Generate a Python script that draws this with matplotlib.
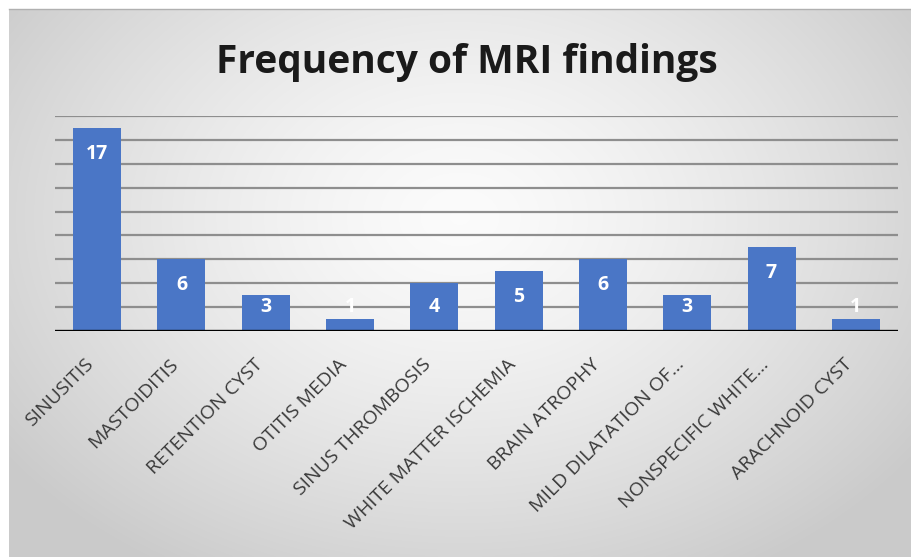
import numpy as np
import matplotlib
matplotlib.use("Agg")
import matplotlib.pyplot as plt
import matplotlib.transforms as mtrans

categories = ["SINUSITIS", "MASTOIDITIS", "RETENTION CYST", "OTITIS MEDIA",
              "SINUS THROMBOSIS", "WHITE MATTER ISCHEMIA", "BRAIN ATROPHY",
              "MILD DILATATION OF...", "NONSPECIFIC WHITE...", "ARACHNOID CYST"]
values = [17, 6, 3, 1, 4, 5, 6, 3, 7, 1]
title = "Frequency of MRI findings"

W, H = 911, 557
fig = plt.figure(figsize=(W / 100, H / 100), dpi=100)
fig.patch.set_facecolor("white")

# background with radial gradient
bg = fig.add_axes([9 / W, 0, 1 - 9 / W, 1 - 9 / H])
bg.set_axis_off()
yy, xx = np.mgrid[0:1:300j, 0:1:500j]
r = np.sqrt(((xx - 0.5) / 0.62) ** 2 + ((yy - 0.38) / 0.75) ** 2)
r = np.clip(r, 0, 1)
val = 0.985 - 0.19 * r ** 1.4
img = np.dstack([val, val, val])
bg.imshow(img, aspect="auto", extent=[0, 1, 1, 0], interpolation="bilinear")
bg.set_xlim(0, 1)
bg.set_ylim(1, 0)
fig.add_artist(plt.Line2D([9 / W, 1], [1 - 9 / H, 1 - 9 / H], color="#b0b0b0", lw=1))

ax = fig.add_axes([55 / W, 1 - 331 / H, (898 - 55) / W, (331 - 116) / H])
ax.patch.set_alpha(0)
x = np.arange(len(categories))
ax.set_xlim(-0.5, len(categories) - 0.5)
ax.set_ylim(0, 18)
for yv in range(2, 19, 2):
    ax.axhline(yv, color="#8e8e8e", lw=1.6, zorder=1)
ax.bar(x, values, width=0.57, color="#4A76C6", zorder=2)
ax.axhline(0, color="black", lw=2.4, zorder=3)
for xi, v in zip(x, values):
    ax.text(xi, max(v - 2.15, 2.0), str(v), ha="center", va="center",
            color="white", fontsize=14, fontweight="bold", family="Open Sans", zorder=4)
for s in ax.spines.values():
    s.set_visible(False)
ax.set_yticks([])
ax.set_xticks(x)
ax.set_xticklabels(categories, rotation=45, ha="right", va="center",
                   rotation_mode="anchor", fontsize=14, color="#3a3a3a", family="Open Sans")
ax.tick_params(axis="x", length=0, pad=22)
offset = mtrans.ScaledTranslation(-6 / 100, 0, fig.dpi_scale_trans)
for lab in ax.get_xticklabels():
    lab.set_transform(lab.get_transform() + offset)

fig.text(467 / W, 1 - 62 / H, title, ha="center", va="center", fontsize=28,
         fontweight="bold", color="#1a1a1a", family="Open Sans")

fig.savefig("out.png", dpi=100)
